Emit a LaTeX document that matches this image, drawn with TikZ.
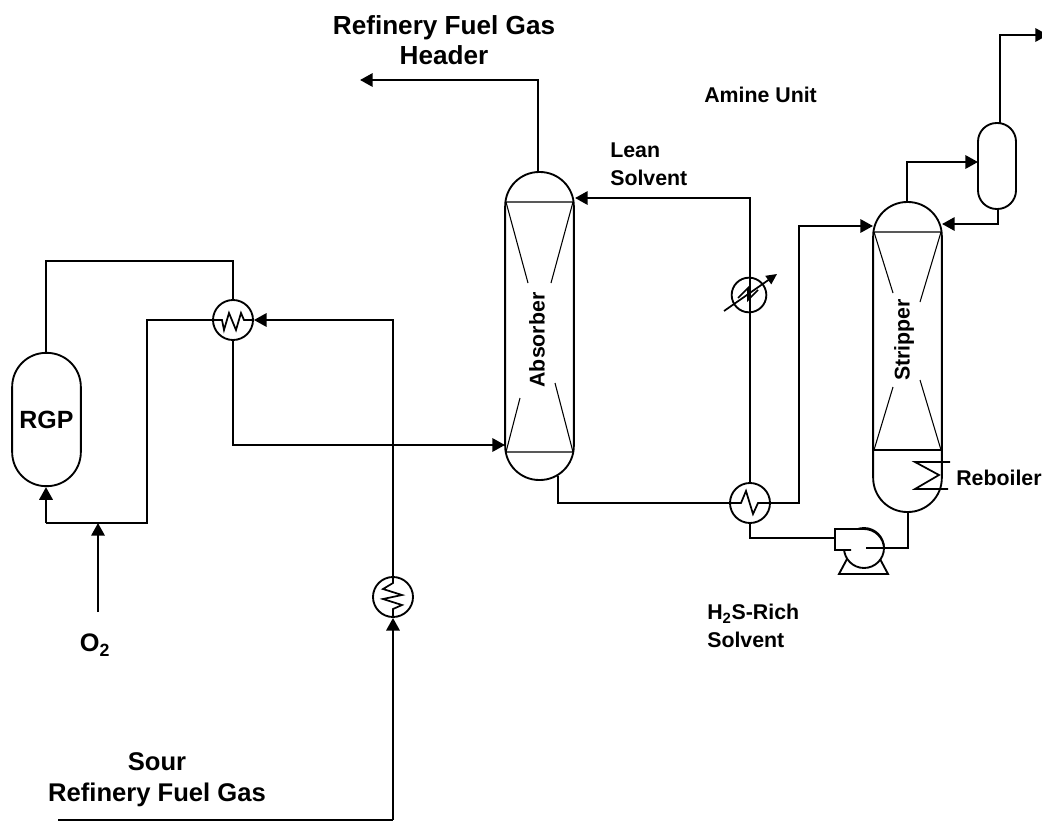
\documentclass[tikz,border=0pt]{standalone}
\usepackage{fontspec}
\setmainfont{Liberation Sans}
\usetikzlibrary{arrows.meta,calc}
\tikzset{
  flow/.style={line width=1.7pt,line join=miter},
  thin flow/.style={line width=1.4pt,line join=miter},
  arrowed/.style={-{Triangle[length=9.5pt,width=10pt]}},
  vessel/.style={draw,line width=1.4pt,rectangle,inner sep=0pt,fill=white},
  hx/.style={draw,line width=1.4pt,circle,inner sep=0pt,minimum size=30pt,fill=white},
  coil/.style={line width=1.3pt,line join=miter},
  tray/.style={line width=.8pt},
  lbl/.style={inner sep=0pt,font=\bfseries\fontsize{16pt}{20.6pt}\selectfont,align=left},
  biglbl/.style={inner sep=0pt,font=\bfseries\fontsize{19.6pt}{22.8pt}\selectfont,align=center},
}
\begin{document}
\begin{tikzpicture}[x=0.75pt,y=-0.75pt]
\useasboundingbox (0,0) rectangle (1042,821);
% vessels
\node[vessel,rounded corners=25.5pt,minimum width=51.5pt,minimum height=100pt,font=\bfseries\fontsize{18.7pt}{20pt}\selectfont] (rgp) at (46.5,419.5) {RGP};
\node[vessel,rounded corners=25.5pt,minimum width=51.5pt,minimum height=231pt] (abs) at (539.5,326) {};
\node[vessel,rounded corners=25.5pt,minimum width=51.5pt,minimum height=232.5pt] (str) at (907.5,357) {};
\node[vessel,rounded corners=14pt,minimum width=28.5pt,minimum height=64.5pt] (drum) at (997,166) {};
% exchangers
\node[hx] (ea) at (233,320) {};
\node[hx] (eb) at (393,597) {};
\node[hx] (ec) at (750,503) {};
\node[hx,minimum size=26pt] (ed) at (749,295) {};
% pump
\node[draw,circle,line width=1.4pt,inner sep=0pt,minimum size=30pt] (pump) at (864,548) {};
% free points
\coordinate (rgptop) at (46,261);
\coordinate (oin) at (98,612);
\coordinate (ojoin) at (98,523);
\coordinate (rgpb) at (46,523);
\coordinate (srcin) at (58,820);
\coordinate (srcb) at (393,820);
\coordinate (eaout) at (147,320);
\coordinate (hdr) at (360,80);
\coordinate (absout) at (558,476);
\coordinate (absinl) at (505,445);
\coordinate (absinr) at (575,198);
\coordinate (strinl) at (873,226);
\coordinate (strinr) at (942,224);
\coordinate (stout) at (1048,35);
\coordinate (drumin) at (978,162);
\coordinate (drumtop) at (1000,124);
\coordinate (drumbot) at (998,208);
\coordinate (strtop) at (907,203);
\coordinate (pumpin) at (835,538);
\coordinate (pumpout) at (866,548);
% connectors
\draw[thin flow] (rgptop |- rgp.north) -- (rgptop) -| (ea.north);
\draw[flow] (ea.west) -- (eaout) |- (ojoin) -- (rgpb);
\draw[flow,arrowed] (rgpb) -- (rgpb |- rgp.south);
\draw[flow,arrowed] (oin) -- (ojoin);
\draw[flow,arrowed] (eb.north) |- (ea.east);
\draw[flow] (srcin) -- (srcb);
\draw[flow,arrowed] (srcb) -- (eb.south);
\draw[flow,arrowed] (ea.south) |- (absinl);
\draw[flow,arrowed] (538,172) |- (hdr);
\draw[flow] (absout) |- (ec.west);
\draw[flow,arrowed] (ec.east) -- (799,503) |- (strinl);
\draw[flow,arrowed] (ec.north) |- (absinr);
\draw[flow] (ec.south) |- (pumpin);
\draw[flow] (pumpout) -- (908,548) -- (908,512);
\draw[flow,arrowed] (strtop) |- (drumin);
\draw[flow,arrowed] (drumtop) |- (stout);
\draw[flow,arrowed] (drumbot) |- (strinr);
% absorber internals
\draw[tray] (506,202) -- (573,202) (506,202) -- (528,283) (573,202) -- (551,283);
\draw[tray] (506,452) -- (573,452) (506,452) -- (520,398) (573,452) -- (555,383);
% stripper internals
\draw[tray] (874,232) -- (941,232) (874,232) -- (893,293) (941,232) -- (920,302);
\draw[line width=1pt] (874,450) -- (941,450);
\draw[tray] (874,450) -- (893,387) (941,450) -- (920,380);
% coils
\draw[coil] (ea.west) -- (222,320) -- (224,330) -- (229,313) -- (236,330) -- (241,313) -- (244,320) -- (ea.east);
\draw[coil] (eb.north) -- (393,583) -- (383,589) -- (402,595) -- (383,599) -- (402,605) -- (393,609) -- (eb.south);
\draw[coil] (ec.west) -- (741,503) -- (746,491) -- (753,514) -- (758,503) -- (ec.east);
\draw[coil] (738,298) -- (748,288) -- (748,300) -- (758,290);
\draw[line width=1.3pt,-{Triangle[length=8pt,width=7.5pt]}] (724,311) -- (777,274);
% reboiler
\draw[coil] (950,462) -- (915,462) -- (939,475) -- (915,489) -- (948,489);
% pump body
\draw[line width=1.4pt,fill=white] (851,550) -- (835,550) -- (835,529) -- (864,529) arc[start angle=-90,end angle=0,radius=20];
\draw[line width=1.4pt] (847,559) -- (839,574) -- (888,574) -- (880,559);
\draw[line width=1.4pt] (866,548) -- (884,548);
% labels
\node[biglbl,anchor=center] (l1) at (444,40) {Refinery Fuel Gas\\Header};
\node[lbl,anchor=west] (l2) at (704,95) {Amine Unit};
\node[lbl,anchor=north west] (l3) at (610,143) {Lean\\Solvent};
\node[lbl,anchor=west] (l4) at (956,478) {Reboiler};
\node[lbl,anchor=north west] (l5) at (707,604) {H\textsubscript{2}S-Rich\\Solvent};
\node[biglbl,anchor=center,font=\bfseries\fontsize{19.2pt}{23.2pt}\selectfont] (l6) at (157,780) {Sour\\Refinery Fuel Gas};
\node[inner sep=0pt,font=\bfseries\fontsize{19pt}{22pt}\selectfont] (l7) at (95,645) {O\textsubscript{2}};
\node[lbl,rotate=90] (l8) at (537,340) {Absorber};
\node[lbl,rotate=90] (l9) at (904,340) {Stripper};
\end{tikzpicture}
\end{document}
